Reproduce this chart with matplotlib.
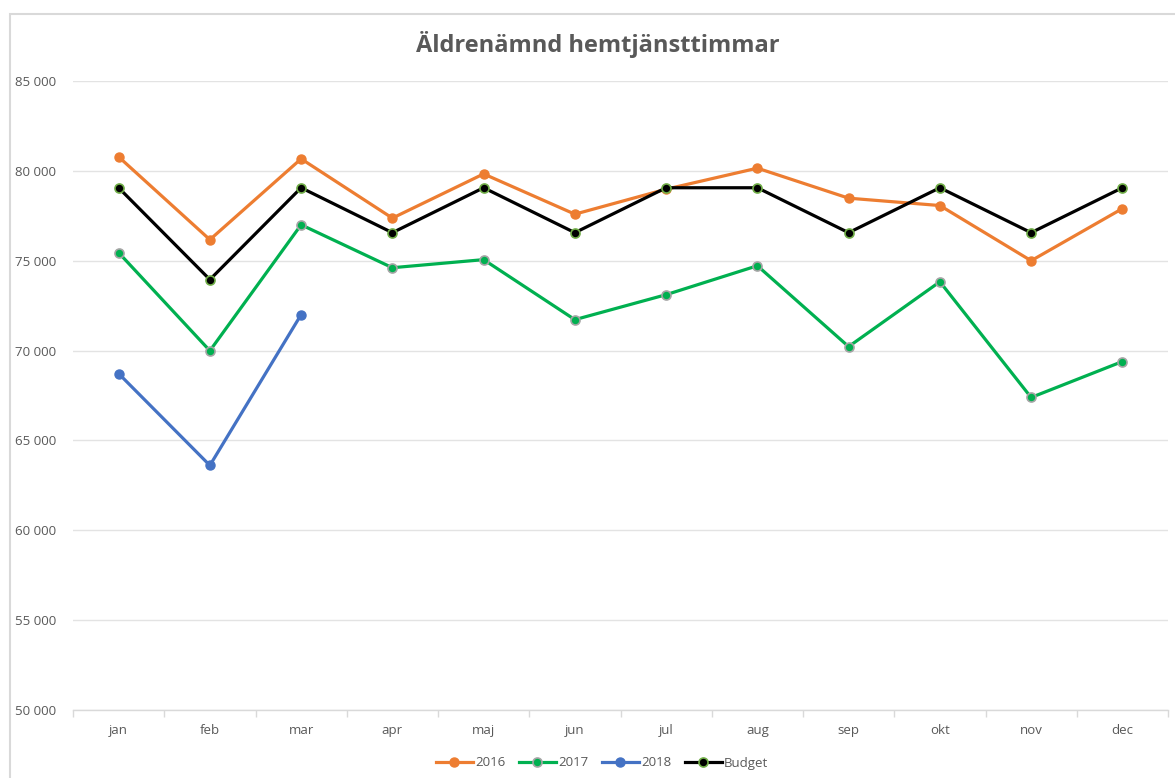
import matplotlib
matplotlib.use("Agg")
import matplotlib.pyplot as plt
from matplotlib.patches import Rectangle
from matplotlib.ticker import FuncFormatter, FixedLocator
import numpy as np

months = ["jan", "feb", "mar", "apr", "maj", "jun", "jul", "aug", "sep", "okt", "nov", "dec"]
y2016 = [80780, 76170, 80670, 77370, 79830, 77590, 78980, 80150, 78480, 78070, 75000, 77900]
y2017 = [75450, 69990, 77000, 74610, 75060, 71720, 73110, 74720, 70220, 73830, 67390, 69390]
y2018 = [68720, 63610, 72000]
budget = [79060, 73950, 79060, 76560, 79060, 76560, 79060, 79060, 76560, 79060, 76560, 79060]
yticks = [50000, 55000, 60000, 65000, 70000, 75000, 80000, 85000]

plt.rcParams['font.family'] = ['Open Sans', 'DejaVu Sans']
W, H = 1175, 778
fig = plt.figure(figsize=(W / 100, H / 100), dpi=100)
fig.patches.append(Rectangle((10 / W, -0.05), 1.2, 1 - 14 / H + 0.05, transform=fig.transFigure,
                             fill=False, edgecolor="#d9d9d9", linewidth=1.5))
ax = fig.add_axes([73 / W, 1 - 710 / H, (1168 - 73) / W, (710 - 81) / H])

x = np.arange(len(months))
lw = 2.3
ms = 6.5
ax.plot(x, y2016, color="#ED7D31", lw=lw, marker="o", ms=ms, mfc="#ED7D31", mec="#ED7D31", label="2016", zorder=3)
ax.plot(x, y2017, color="#00B050", lw=lw, marker="o", ms=ms, mfc="#00B050", mec="#A5A5A5", mew=1.2, label="2017", zorder=3)
ax.plot(x[:len(y2018)], y2018, color="#4472C4", lw=lw, marker="o", ms=ms, mfc="#4472C4", mec="#4472C4", label="2018", zorder=3)
ax.plot(x, budget, color="#000000", lw=lw, marker="o", ms=ms, mfc="#000000", mec="#70AD47", mew=1.2, label="Budget", zorder=4)

ax.set_xlim(-0.5, 11.5)
ax.set_ylim(50000, 85000)
ax.set_yticks(yticks)
ax.yaxis.set_major_formatter(FuncFormatter(lambda v, p: f"{int(v):,}".replace(",", " ")))
ax.set_xticks(x)
ax.set_xticklabels(months)
ax.xaxis.set_minor_locator(FixedLocator(np.arange(-0.5, 12, 1)))
ax.tick_params(axis="x", which="major", length=0, pad=10, labelsize=9.5, labelcolor="#595959")
ax.tick_params(axis="x", which="minor", length=5, color="#d9d9d9", width=1)
ax.tick_params(axis="y", length=0, pad=12, labelsize=9.5, labelcolor="#595959")
ax.grid(axis="y", color="#e3e3e3", linewidth=1)
ax.set_axisbelow(True)
for s in ["top", "right", "left"]:
    ax.spines[s].set_visible(False)
ax.spines["bottom"].set_color("#d9d9d9")
ax.spines["bottom"].set_linewidth(1)

fig.text(598 / W, 1 - 45 / H, "Äldrenämnd hemtjänsttimmar", ha="center", va="center",
         fontsize=17, fontweight="bold", color="#595959")

leg = fig.legend(loc="center", bbox_to_anchor=(602 / W, 1 - 763 / H), ncol=4, frameon=False,
                 fontsize=9.5, handlelength=2.8, columnspacing=1.0, handletextpad=0.2)
for t in leg.get_texts():
    t.set_color("#595959")

fig.savefig("out.png", dpi=100)
